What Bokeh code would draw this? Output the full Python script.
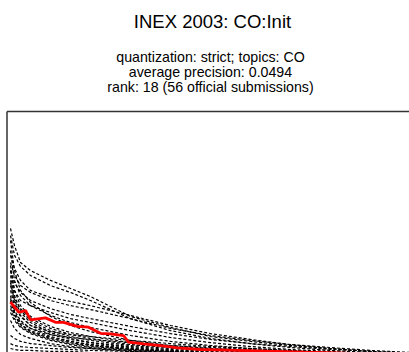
from bokeh.plotting import figure
from bokeh.models import Range1d, Label
from bokeh.embed import file_html
from bokeh.resources import INLINE

# ---- texts ----
title_text = "INEX 2003: CO:Init"
subtitle_lines = [
    "quantization: strict; topics: CO",
    "average precision: 0.0494",
    "rank: 18 (56 official submissions)",
]

# ---- data: recall grid shared by the other official submissions ----
recall_grid = [0, 0.01, 0.025, 0.05, 0.1, 0.15, 0.2, 0.3, 0.4, 0.5, 0.6, 0.7, 0.8, 0.9, 1.0]

run_a = [0.539, 0.469, 0.400, 0.367, 0.327, 0.294, 0.261, 0.180, 0.135, 0.098, 0.078, 0.061, 0.049, 0.037, 0.029]
run_b = [0.510, 0.429, 0.384, 0.347, 0.306, 0.278, 0.245, 0.171, 0.122, 0.090, 0.069, 0.053, 0.041, 0.033, 0.024]
run_c = [0.429, 0.376, 0.327, 0.286, 0.257, 0.241, 0.224, 0.184, 0.143, 0.110, 0.086, 0.065, 0.049, 0.037, 0.029]
run_d = [0.400, 0.347, 0.306, 0.278, 0.245, 0.224, 0.208, 0.171, 0.131, 0.102, 0.082, 0.065, 0.053, 0.041, 0.033]
run_e = [0.367, 0.318, 0.278, 0.245, 0.212, 0.188, 0.171, 0.139, 0.110, 0.086, 0.069, 0.057, 0.045, 0.037, 0.029]
run_f = [0.347, 0.265, 0.204, 0.163, 0.122, 0.098, 0.082, 0.061, 0.049, 0.041, 0.033, 0.024, 0.016, 0.012, 0.008]
run_g = [0.318, 0.245, 0.196, 0.155, 0.114, 0.090, 0.073, 0.057, 0.045, 0.037, 0.029, 0.020, 0.016, 0.012, 0.008]
run_h = [0.286, 0.224, 0.180, 0.143, 0.106, 0.086, 0.073, 0.053, 0.041, 0.033, 0.024, 0.020, 0.016, 0.012, 0.008]
run_i = [0.253, 0.204, 0.163, 0.131, 0.098, 0.078, 0.065, 0.049, 0.037, 0.029, 0.024, 0.020, 0.016, 0.012, 0.008]
run_j = [0.224, 0.184, 0.147, 0.118, 0.090, 0.073, 0.061, 0.045, 0.037, 0.029, 0.020, 0.016, 0.012, 0.008, 0.004]
run_k = [0.196, 0.163, 0.135, 0.110, 0.082, 0.065, 0.053, 0.041, 0.033, 0.024, 0.020, 0.016, 0.012, 0.008, 0.004]
run_l = [0.388, 0.286, 0.245, 0.224, 0.196, 0.171, 0.155, 0.122, 0.094, 0.073, 0.057, 0.045, 0.037, 0.029, 0.020]
run_m = [0.449, 0.327, 0.265, 0.224, 0.184, 0.155, 0.135, 0.102, 0.078, 0.061, 0.049, 0.041, 0.033, 0.024, 0.020]
run_n = [0.490, 0.367, 0.286, 0.237, 0.180, 0.143, 0.118, 0.082, 0.061, 0.049, 0.041, 0.033, 0.029, 0.024, 0.020]
run_o = [0.102, 0.090, 0.078, 0.069, 0.061, 0.053, 0.049, 0.041, 0.033, 0.029, 0.024, 0.020, 0.016, 0.012, 0.008]
run_p = [0.069, 0.061, 0.057, 0.053, 0.049, 0.045, 0.041, 0.037, 0.033, 0.029, 0.024, 0.020, 0.016, 0.012, 0.008]
run_q = [0.049, 0.045, 0.041, 0.041, 0.037, 0.037, 0.033, 0.029, 0.024, 0.020, 0.016, 0.012, 0.008, 0.008, 0.004]
run_r = [0.163, 0.131, 0.106, 0.090, 0.069, 0.057, 0.049, 0.037, 0.029, 0.024, 0.020, 0.016, 0.012, 0.008, 0.004]
run_s = [0.306, 0.237, 0.184, 0.143, 0.118, 0.106, 0.098, 0.082, 0.069, 0.057, 0.049, 0.041, 0.033, 0.024, 0.016]
run_t = [0.265, 0.196, 0.155, 0.131, 0.106, 0.094, 0.086, 0.073, 0.061, 0.053, 0.045, 0.037, 0.033, 0.029, 0.024]
run_u = [0.327, 0.253, 0.212, 0.171, 0.131, 0.106, 0.090, 0.065, 0.053, 0.045, 0.037, 0.029, 0.020, 0.016, 0.012]
run_v = [0.245, 0.188, 0.147, 0.122, 0.094, 0.078, 0.065, 0.049, 0.041, 0.033, 0.029, 0.024, 0.020, 0.016, 0.012]
run_w = [0.367, 0.286, 0.224, 0.180, 0.139, 0.114, 0.098, 0.073, 0.057, 0.045, 0.037, 0.029, 0.024, 0.020, 0.016]
run_x = [0.212, 0.171, 0.139, 0.114, 0.086, 0.069, 0.057, 0.045, 0.037, 0.029, 0.024, 0.020, 0.016, 0.012, 0.008]

other_runs = [run_a, run_b, run_c, run_d, run_e, run_f, run_g, run_h, run_i, run_j, run_k, run_l,
              run_m, run_n, run_o, run_p, run_q, run_r, run_s, run_t, run_u, run_v, run_w, run_x]

# ---- data: this submission (CO:Init) ----
init_recall = [0.0, 0.021, 0.0375, 0.05, 0.0875, 0.1125, 0.1325, 0.167, 0.195, 0.225, 0.25,
               0.2825, 0.295, 0.3325, 0.375, 0.4175, 0.475, 0.5675, 0.735, 0.8175, 1.0]
init_precision = [0.238, 0.197, 0.204, 0.166, 0.174, 0.156, 0.156, 0.139, 0.136, 0.111, 0.109,
                  0.102, 0.075, 0.068, 0.061, 0.052, 0.045, 0.041, 0.034, 0.031, 0.020]

# ---- plot frame limits ----
x_lo, x_hi = -0.025, 0.9975
y_lo, y_hi = 0.0327, 1.4694
box_left = -0.00875
box_top = 1.0163

p = figure(width=409, height=352, output_backend="svg", toolbar_location=None,
           x_range=Range1d(x_lo, x_hi), y_range=Range1d(y_lo, y_hi),
           x_axis_location=None, y_axis_location=None,
           min_border=0, min_border_left=0, min_border_right=0,
           min_border_top=0, min_border_bottom=0)
p.grid.visible = False
p.outline_line_color = None
p.background_fill_color = "white"
p.border_fill_color = "white"

for run in other_runs:
    p.line(recall_grid, run, line_color="black", line_width=1.2, line_dash="3 2")

p.line(init_recall, init_precision, line_color="#ff0000", line_width=2.8)

# plot box (left and top edges visible)
p.line([box_left, box_left], [box_top, 0], line_color="#333333", line_width=1.5)
p.line([box_left, x_hi + 0.1], [box_top, box_top], line_color="#333333", line_width=1.5)

p.add_layout(Label(x=212, y=331, x_units="screen", y_units="screen", text=title_text,
                   text_align="center", text_baseline="alphabetic",
                   text_font="Liberation Sans", text_font_size="18.5px", text_color="black"))
for i, line in enumerate(subtitle_lines):
    p.add_layout(Label(x=210, y=296 - 15 * i, x_units="screen", y_units="screen", text=line,
                       text_align="center", text_baseline="alphabetic",
                       text_font="Liberation Sans", text_font_size="14.2px", text_color="black"))

open("out.html", "w").write(file_html(p, INLINE))
